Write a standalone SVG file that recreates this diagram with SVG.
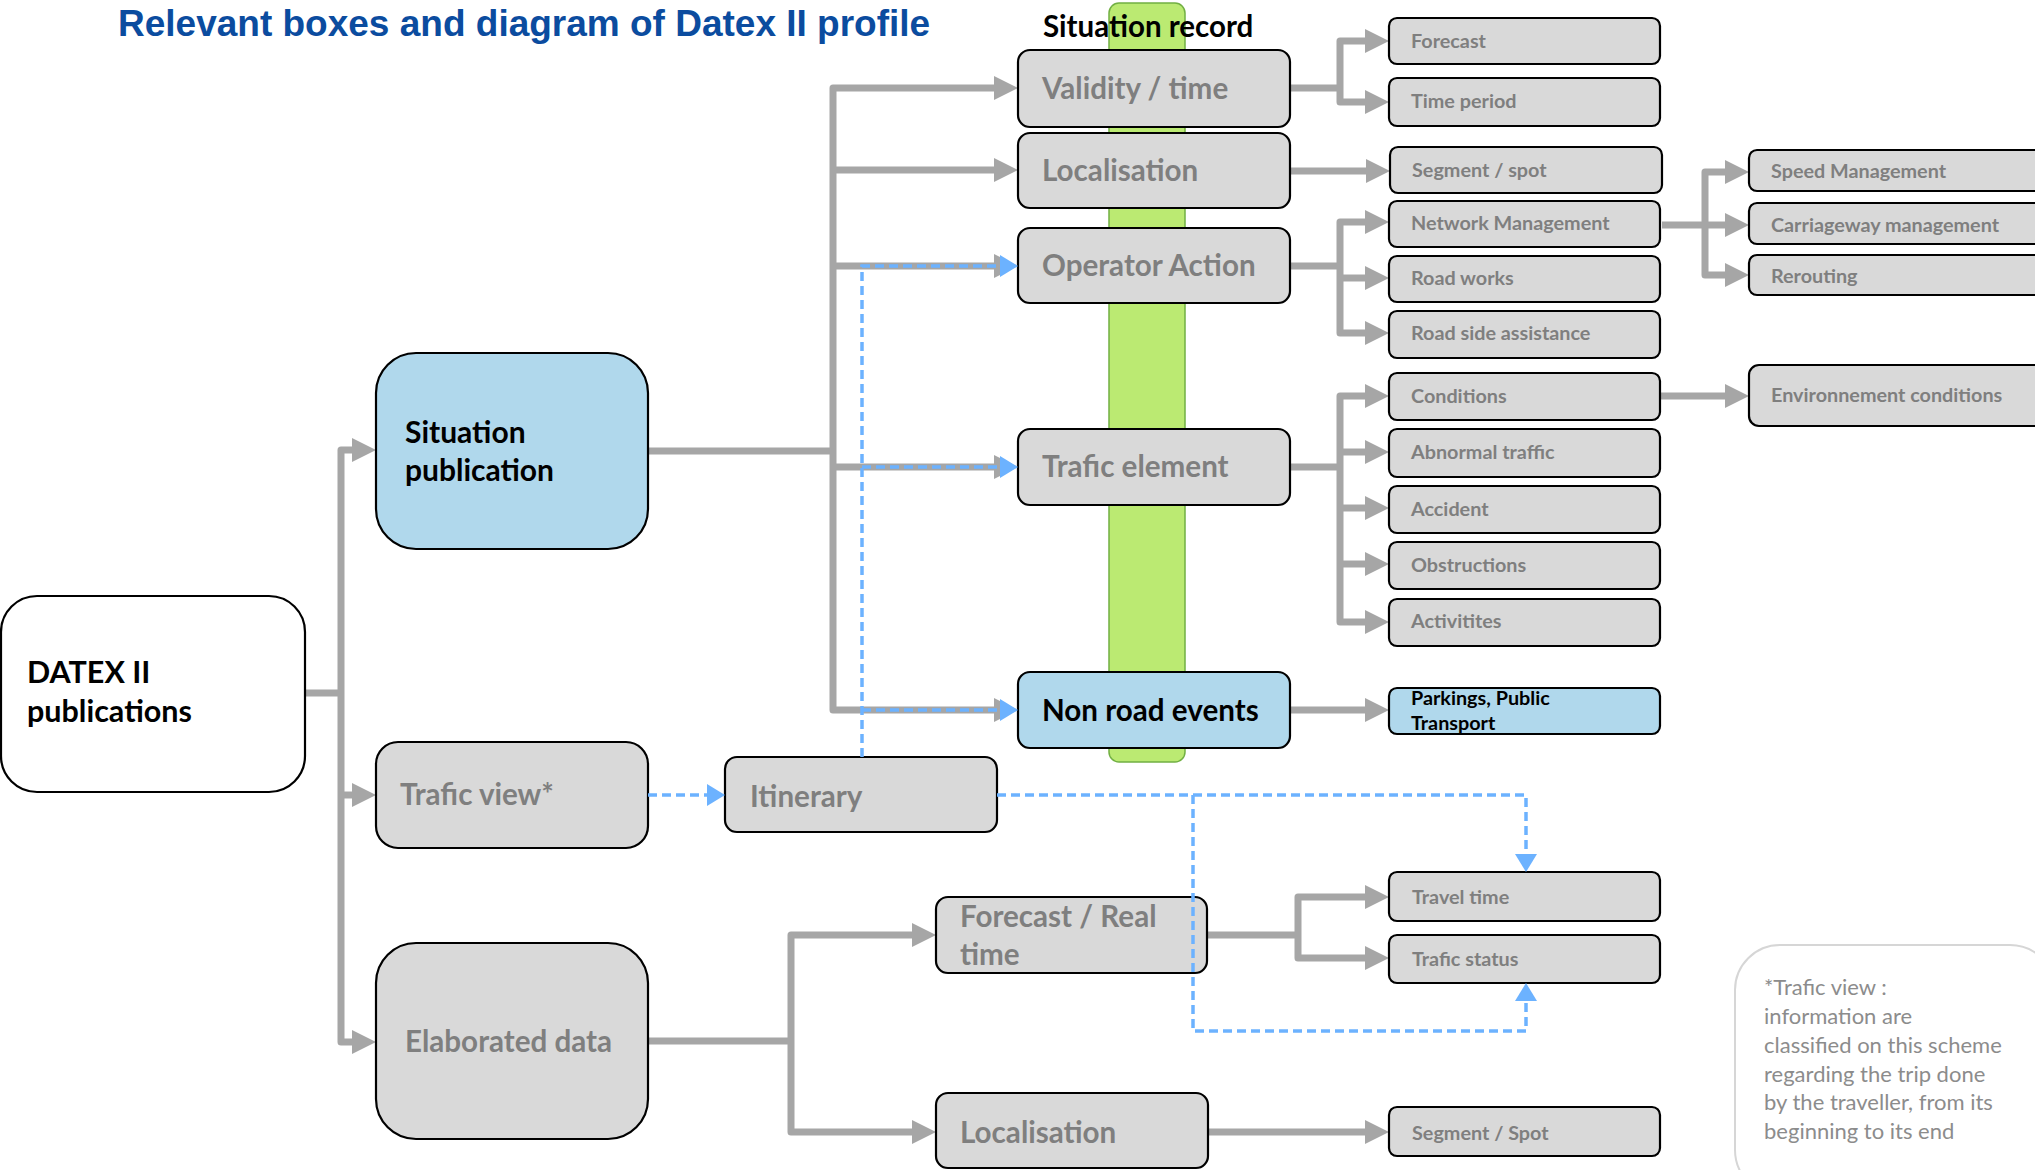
<svg xmlns="http://www.w3.org/2000/svg" width="2035" height="1170" viewBox="0 0 2035 1170">
<style>
text{font-family:Lato,"Open Sans",sans-serif;}
.g{fill:#d9d9d9;stroke:#000;stroke-width:2.2;}
.b{fill:#b0d8ec;stroke:#000;stroke-width:2.2;}
.w{fill:#fff;stroke:#000;stroke-width:2.2;}
.tg{fill:#7f7f7f;font-weight:700;}
.tk{fill:#000;font-weight:700;}
.L{font-size:29.6px;}
.S{font-size:19.8px;}
.c{fill:none;stroke:#a6a6a6;stroke-width:7;stroke-linejoin:round;marker-end:url(#ag);}
.c2{fill:none;stroke:#a6a6a6;stroke-width:7;stroke-linejoin:round;marker-start:url(#ag);marker-end:url(#ag);}
.n{fill:none;stroke:#a6a6a6;stroke-width:7;stroke-linejoin:round;}
.d{fill:none;stroke:#6cb2ff;stroke-width:3.5;stroke-dasharray:9 5;marker-end:url(#ab);}
.note{fill:#8c8c8c;font-size:22px;}
</style>
<defs>
<marker id="ag" markerUnits="userSpaceOnUse" markerWidth="24" markerHeight="24" viewBox="0 -12 24 24" refX="0" refY="0" orient="auto-start-reverse"><path d="M0,-12 L24,0 L0,12 Z" fill="#a6a6a6"/></marker>
<marker id="ab" markerUnits="userSpaceOnUse" markerWidth="18" markerHeight="22" viewBox="0 -11 18 22" refX="0" refY="0" orient="auto"><path d="M0,-11 L18,0 L0,11 Z" fill="#6cb2ff"/></marker>
</defs>
<rect width="2035" height="1170" fill="#fff"/>
<text x="118" y="36" font-weight="700" font-size="37" fill="#0b4c9f" style="font-family:'Liberation Sans',Arial,sans-serif">Relevant boxes and diagram of Datex II profile</text>

<g id="situation-record">
<rect x="1109" y="3" width="76" height="759" rx="10" fill="#bbea72" stroke="#72b043" stroke-width="1.5"/>
<text x="1043" y="37" class="tk" font-size="29.5">Situation record</text>
</g>

<g id="connectors-main">
<path class="n" d="M305,693 H341"/>
<path class="c2" d="M352,450 H341 V1042 H352"/>
<path class="c" d="M341,795 H352"/>
<path class="n" d="M648,451 H833"/>
<path class="c2" d="M994,88 H833 V710 H994"/>
<path class="c" d="M833,170 H994"/>
<path class="c" d="M833,266 H994"/>
<path class="c" d="M833,467 H994"/>
<path class="n" d="M1290,88 H1340"/>
<path class="c2" d="M1365,41 H1340 V102 H1365"/>
<path class="c" d="M1290,171 H1366"/>
<path class="n" d="M1290,266 H1340"/>
<path class="c2" d="M1365,222 H1340 V333 H1365"/>
<path class="c" d="M1340,278 H1365"/>
<path class="n" d="M1662,225 H1705"/>
<path class="c2" d="M1725,172 H1705 V275 H1725"/>
<path class="c" d="M1705,225 H1725"/>
<path class="n" d="M1290,467 H1340"/>
<path class="c2" d="M1365,396 H1340 V622 H1365"/>
<path class="c" d="M1340,452 H1365"/>
<path class="c" d="M1340,508 H1365"/>
<path class="c" d="M1340,564 H1365"/>
<path class="c" d="M1660,396 H1725"/>
<path class="c" d="M1290,710 H1365"/>
<path class="n" d="M648,1041 H791"/>
<path class="c2" d="M912,935 H791 V1132 H912"/>
<path class="n" d="M1207,935 H1298"/>
<path class="c2" d="M1365,897 H1298 V958 H1365"/>
<path class="c" d="M1208,1132 H1365"/>
</g>

<g id="datex">
<rect class="w" x="1" y="596" width="304" height="196" rx="36"/>
<text class="tk" font-size="30.5" x="27" y="683">DATEX II</text>
<text class="tk" font-size="30.5" x="27" y="722">publications</text>
</g>
<g id="situation-publication">
<rect class="b" x="376" y="353" width="272" height="196" rx="40"/>
<text class="tk" font-size="30" x="405" y="443">Situation</text>
<text class="tk" font-size="30" x="405" y="481">publication</text>
</g>
<g id="trafic-view">
<rect class="g" x="376" y="742" width="272" height="106" rx="22"/>
<text class="tg L" x="400" y="805">Trafic view*</text>
</g>
<g id="itinerary">
<rect class="g" x="725" y="757" width="272" height="75" rx="12"/>
<text class="tg L" x="750" y="807">Itinerary</text>
</g>
<g id="elaborated-data">
<rect class="g" x="376" y="943" width="272" height="196" rx="40"/>
<text class="tg L" x="405" y="1052">Elaborated data</text>
</g>

<g id="validity"><rect class="g" x="1018" y="50" width="272" height="77" rx="12"/><text class="tg L" x="1042" y="99">Validity / time</text></g>
<g id="localisation"><rect class="g" x="1018" y="133" width="272" height="75" rx="12"/><text class="tg L" x="1042" y="181">Localisation</text></g>
<g id="operator-action"><rect class="g" x="1018" y="228" width="272" height="75" rx="12"/><text class="tg L" x="1042" y="276">Operator Action</text></g>
<g id="trafic-element"><rect class="g" x="1018" y="429" width="272" height="76" rx="12"/><text class="tg L" x="1042" y="477">Trafic element</text></g>
<g id="non-road-events"><rect class="b" x="1018" y="672" width="272" height="76" rx="12"/><text class="tk L" x="1042" y="721">Non road events</text></g>

<g id="forecast"><rect class="g" x="1389" y="18" width="271" height="46" rx="8"/><text class="tg S" x="1411" y="48">Forecast</text></g>
<g id="time-period"><rect class="g" x="1389" y="78" width="271" height="48" rx="8"/><text class="tg S" x="1411" y="108">Time period</text></g>
<g id="segment-spot"><rect class="g" x="1390" y="147" width="272" height="46" rx="8"/><text class="tg S" x="1412" y="177">Segment / spot</text></g>
<g id="network-management"><rect class="g" x="1389" y="201" width="271" height="46" rx="8"/><text class="tg S" x="1411" y="230">Network Management</text></g>
<g id="road-works"><rect class="g" x="1389" y="256" width="271" height="46" rx="8"/><text class="tg S" x="1411" y="285">Road works</text></g>
<g id="road-side"><rect class="g" x="1389" y="311" width="271" height="47" rx="8"/><text class="tg S" x="1411" y="340">Road side assistance</text></g>
<g id="conditions"><rect class="g" x="1389" y="373" width="271" height="47" rx="8"/><text class="tg S" x="1411" y="403">Conditions</text></g>
<g id="abnormal-traffic"><rect class="g" x="1389" y="429" width="271" height="48" rx="8"/><text class="tg S" x="1411" y="459">Abnormal traffic</text></g>
<g id="accident"><rect class="g" x="1389" y="486" width="271" height="47" rx="8"/><text class="tg S" x="1411" y="516">Accident</text></g>
<g id="obstructions"><rect class="g" x="1389" y="542" width="271" height="47" rx="8"/><text class="tg S" x="1411" y="572">Obstructions</text></g>
<g id="activitites"><rect class="g" x="1389" y="599" width="271" height="47" rx="8"/><text class="tg S" x="1411" y="628">Activitites</text></g>
<g id="parkings"><rect class="b" x="1389" y="688" width="271" height="46" rx="8"/><text class="tk S" x="1411" y="705">Parkings, Public</text><text class="tk S" x="1411" y="730">Transport</text></g>

<g id="speed-management"><rect class="g" x="1749" y="150" width="300" height="41" rx="8"/><text class="tg S" x="1771" y="178">Speed Management</text></g>
<g id="carriageway-management"><rect class="g" x="1749" y="203" width="300" height="41" rx="8"/><text class="tg S" x="1771" y="232">Carriageway management</text></g>
<g id="rerouting"><rect class="g" x="1749" y="255" width="300" height="40" rx="8"/><text class="tg S" x="1771" y="283">Rerouting</text></g>
<g id="environnement-conditions"><rect class="g" x="1749" y="365" width="300" height="61" rx="10"/><text class="tg S" x="1771" y="402">Environnement conditions</text></g>

<g id="forecast-real-time"><rect class="g" x="936" y="897" width="271" height="76" rx="12"/><text class="tg L" x="960" y="927">Forecast / Real</text><text class="tg L" x="960" y="965">time</text></g>
<g id="localisation-2"><rect class="g" x="936" y="1093" width="272" height="75" rx="12"/><text class="tg L" x="960" y="1143">Localisation</text></g>
<g id="travel-time"><rect class="g" x="1389" y="872" width="271" height="49" rx="8"/><text class="tg S" x="1412" y="904">Travel time</text></g>
<g id="trafic-status"><rect class="g" x="1389" y="935" width="271" height="48" rx="8"/><text class="tg S" x="1412" y="966">Trafic status</text></g>
<g id="segment-spot-2"><rect class="g" x="1389" y="1107" width="271" height="49" rx="8"/><text class="tg S" x="1412" y="1140">Segment / Spot</text></g>

<g id="note">
<rect x="1735" y="945" width="320" height="250" rx="45" fill="#fff" stroke="#d6d6d6" stroke-width="2"/>
<text class="note" x="1764" y="995">*Trafic view :</text>
<text class="note" x="1764" y="1024">information are</text>
<text class="note" x="1764" y="1053">classified on this scheme</text>
<text class="note" x="1764" y="1082">regarding the trip done</text>
<text class="note" x="1764" y="1110">by the traveller, from its</text>
<text class="note" x="1764" y="1139">beginning to its end</text>
</g>

<g id="connectors-dashed">
<path class="d" d="M862,757 V266 H1000"/>
<path class="d" d="M862,467 H1000"/>
<path class="d" d="M862,710 H1000"/>
<path class="d" d="M648,795 H707"/>
<path class="d" d="M997,795 H1526 V854"/>
<path class="d" d="M1193,795 V1031 H1526 V1001"/>
</g>
</svg>
